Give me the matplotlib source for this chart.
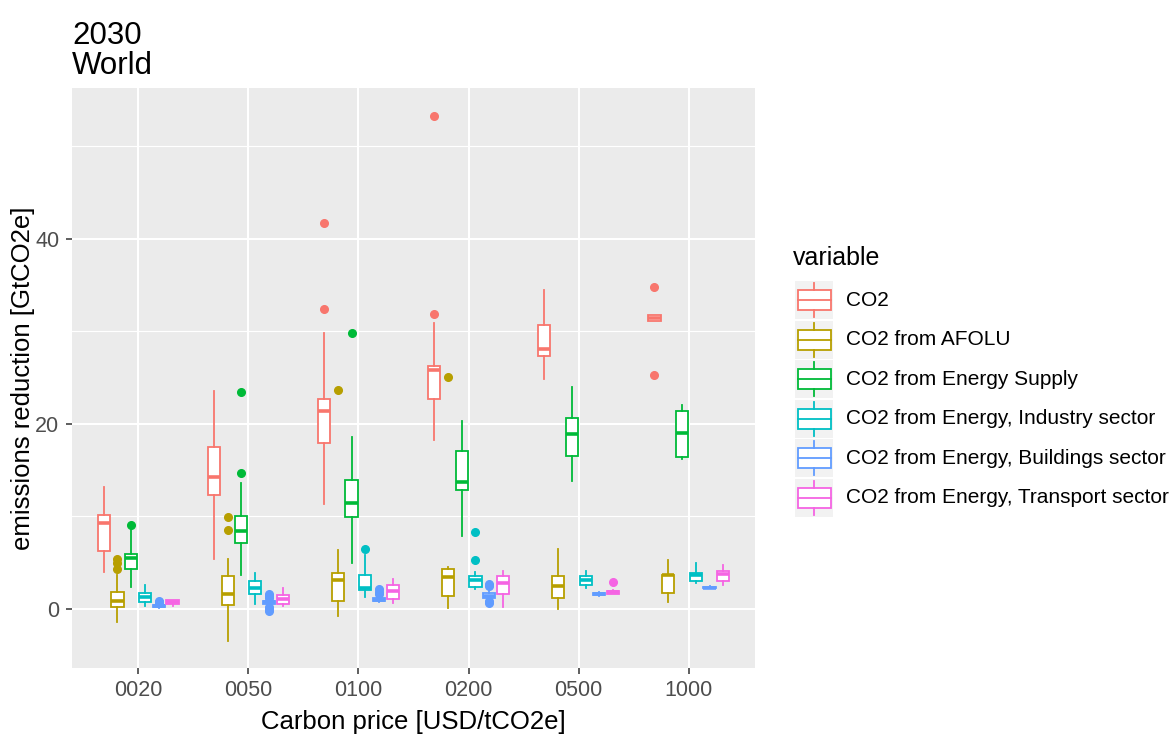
import matplotlib
matplotlib.use("Agg")
import matplotlib.pyplot as plt
from matplotlib.patches import Rectangle

plt.rcParams['font.family'] = ['Liberation Sans', 'DejaVu Sans']

prices = ["0020", "0050", "0100", "0200", "0500", "1000"]
variables = ["CO2", "CO2 from AFOLU", "CO2 from Energy Supply",
             "CO2 from Energy, Industry sector", "CO2 from Energy, Buildings sector",
             "CO2 from Energy, Transport sector"]
colors = ["#F8766D", "#B79F00", "#00BA38", "#00BFC4", "#619CFF", "#F564E3"]

# box stats per variable, one entry per carbon price: (whislo, q1, med, q3, whishi)
co2 = [(4.0, 6.3, 9.3, 10.1, 13.2), (5.4, 12.3, 14.2, 17.5, 23.5),
       (11.35, 17.9, 21.4, 22.7, 29.8), (18.2, 22.7, 25.8, 26.3, 30.9),
       (24.8, 27.3, 28.1, 30.7, 34.5), (31.1, 31.1, 31.4, 31.8, 31.8)]
co2_out = [[], [], [32.4, 41.7], [31.9, 53.3], [], [25.3, 34.8]]

afolu = [(-1.4, 0.2, 0.8, 1.8, 3.6), (-3.5, 0.4, 1.6, 3.5, 5.4),
         (-0.8, 0.8, 3.1, 3.9, 6.4), (0.1, 1.35, 3.4, 4.3, 4.5),
         (0.0, 1.2, 2.45, 3.5, 6.5), (0.7, 1.7, 3.6, 3.7, 5.3)]
afolu_out = [[4.3, 4.9, 5.4], [8.5, 9.9], [23.6], [25.1], [], []]

supply = [(2.4, 4.3, 5.45, 5.95, 8.5), (3.7, 7.1, 8.4, 10.05, 13.6),
          (5.0, 9.9, 11.4, 13.9, 18.6), (7.85, 12.8, 13.7, 17.1, 20.3),
          (13.8, 16.5, 18.9, 20.6, 24.0), (16.2, 16.4, 19.0, 21.4, 22.0)]
supply_out = [[9.1], [14.7, 23.4], [29.8], [], [], []]

industry = [(0.3, 0.7, 1.3, 1.7, 2.6), (0.5, 1.65, 2.3, 3.0, 3.9),
            (1.26, 2.05, 2.3, 3.7, 5.8), (2.1, 2.4, 3.1, 3.5, 4.0),
            (2.3, 2.56, 3.1, 3.5, 4.1), (2.8, 3.0, 3.6, 3.9, 4.9)]
industry_out = [[], [], [6.5], [5.3, 8.3], [], []]

buildings = [(0.05, 0.2, 0.3, 0.45, 0.5), (0.4, 0.5, 0.7, 0.85, 1.0),
             (0.7, 0.8, 1.0, 1.2, 1.4), (0.9, 1.2, 1.4, 1.7, 2.1),
             (1.4, 1.45, 1.6, 1.75, 1.8), (2.2, 2.2, 2.3, 2.4, 2.45)]
buildings_out = [[0.6, 0.7, 0.8], [1.2, 1.4, 1.6, 0.0, -0.2, 0.2],
                 [1.6, 1.8, 2.1], [2.5, 2.7, 0.6, 0.8], [], []]

transport = [(0.3, 0.5, 0.7, 0.95, 1.0), (0.3, 0.5, 1.1, 1.5, 2.2),
             (0.68, 1.08, 1.87, 2.6, 3.2), (0.2, 1.6, 2.8, 3.5, 4.1),
             (1.6, 1.65, 1.8, 1.95, 2.0), (2.6, 3.0, 3.8, 4.1, 4.7)]
transport_out = [[], [], [], [], [2.9], []]

stats_all = [co2, afolu, supply, industry, buildings, transport]
outs_all = [co2_out, afolu_out, supply_out, industry_out, buildings_out, transport_out]

W, H = 1174, 735
fig = plt.figure(figsize=(W / 100, H / 100), dpi=100)
ax = fig.add_axes([72 / W, 1 - 668 / H, (755 - 72) / W, (668 - 88) / H])
ax.set_facecolor("#EBEBEB")

dodge = 0.125
for j, (var_stats, var_out, c) in enumerate(zip(stats_all, outs_all, colors)):
    bstats = []
    for (lo, q1, med, q3, hi), fl in zip(var_stats, var_out):
        bstats.append(dict(whislo=lo, q1=q1, med=med, q3=q3, whishi=hi, fliers=fl))
    pos = [i + 1 + (j - 2.5) * dodge for i in range(len(prices))]
    ax.bxp(bstats, positions=pos, widths=0.11, patch_artist=True, showcaps=False,
           manage_ticks=False,
           boxprops=dict(facecolor="white", edgecolor=c, linewidth=1.3),
           whiskerprops=dict(color=c, linewidth=1.3),
           medianprops=dict(color=c, linewidth=2.6, solid_capstyle="butt"),
           flierprops=dict(marker="o", markerfacecolor=c, markeredgecolor=c,
                           markersize=5.5, linestyle="none"))

ax.set_xlim(0.4, len(prices) + 0.6)
ax.set_ylim(-6.4, 56.3)
ax.set_xticks(range(1, len(prices) + 1))
ax.set_xticklabels(prices)
ax.set_yticks([0, 20, 40])
ax.set_yticks([10, 30, 50], minor=True)
ax.grid(which="major", color="white", linewidth=1.5)
ax.grid(which="minor", axis="y", color="white", linewidth=0.8)
ax.set_axisbelow(True)
for s in ax.spines.values():
    s.set_visible(False)
ax.tick_params(axis="both", which="major", length=4, width=1.1, color="#333333",
               labelcolor="#4D4D4D", labelsize=15.5, pad=5)
ax.tick_params(axis="both", which="minor", length=0)

ax.set_xlabel("Carbon price [USD/tCO2e]", fontsize=18.5, labelpad=6)
ax.set_ylabel("emissions reduction [GtCO2e]", fontsize=18.5, labelpad=0)
ax.set_title("2030\nWorld", loc="left", fontsize=22.5, pad=10, linespacing=1.0)

# legend drawn by hand in pixel coordinates
lax = fig.add_axes([0, 0, 1, 1], facecolor="none")
lax.set_xlim(0, W)
lax.set_ylim(H, 0)
lax.axis("off")
lax.text(793, 265, "variable", fontsize=18, va="baseline", ha="left")
for k, (name, c) in enumerate(zip(variables, colors)):
    cy = 300 + k * 39.5
    lax.add_patch(Rectangle((795, cy - 19), 38, 38, facecolor="#F2F2F2", edgecolor="none"))
    lax.plot([814, 814], [cy - 17, cy - 10], color=c, lw=1.3)
    lax.plot([814, 814], [cy + 10, cy + 17], color=c, lw=1.3)
    lax.add_patch(Rectangle((797.5, cy - 10), 33, 20, facecolor="white", edgecolor=c, lw=1.3))
    lax.plot([797.5, 830.5], [cy, cy], color=c, lw=1.3)
    lax.text(846, cy, name, fontsize=15, va="center", ha="left")

fig.savefig("out.png", dpi=100)
